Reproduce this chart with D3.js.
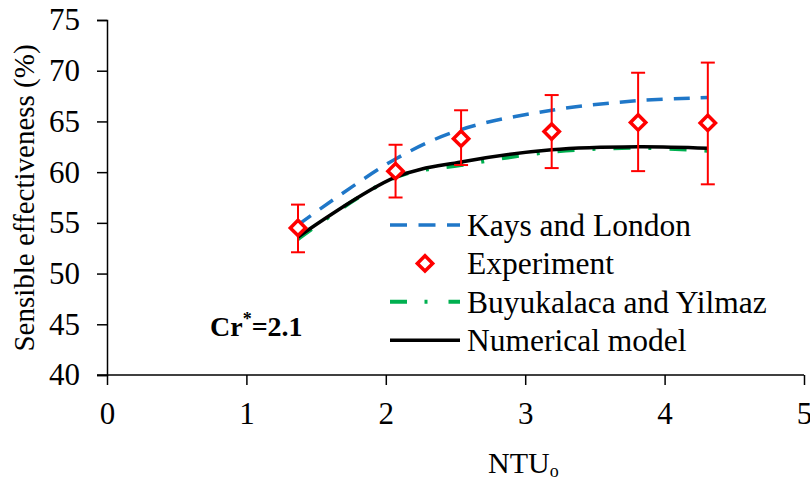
<!DOCTYPE html>
<html>
<head>
<meta charset="utf-8">
<script src="https://cdn.jsdelivr.net/npm/d3@7"></script>
<style>
  body { margin: 0; background: #fff; }
</style>
</head>
<body>
<svg id="chart" width="810" height="483"></svg>
<script>
// NTU values of the measured / computed points
var ntu = [1.37, 2.07, 2.54, 3.19, 3.81, 4.31];

// series values (%)
var kaysLondon = [54.8, 61.3, 64.2, 66.1, 67.05, 67.35];
var experiment = [54.5, 60.1, 63.3, 64.0, 64.9, 64.85];
var errLow = [52.1, 57.5, 60.7, 60.4, 60.1, 58.8];
var errHigh = [56.8, 62.7, 66.1, 67.6, 69.8, 70.8];
var buyukalaca = [53.4, 59.5, 60.7, 62.0, 62.4, 62.1];
var numerical = [53.6, 59.5, 61.0, 62.2, 62.5, 62.35];

var xTicks = [0, 1, 2, 3, 4, 5];
var yTicks = [40, 45, 50, 55, 60, 65, 70, 75];

var legendNames = ["Kays and London", "Experiment", "Buyukalaca and Yilmaz", "Numerical model"];

var FONT = "'Liberation Serif', 'Times New Roman', monospace";

// set the dimensions and margins of the graph
var margin = {top: 20, right: 6, bottom: 108, left: 107},
    width = 804 - margin.left,
    height = 375 - margin.top;

var svg = d3.select("#chart")
  .style("font-family", FONT)
  .append("g")
  .attr("transform", "translate(" + margin.left + "," + margin.top + ")");

var x = d3.scaleLinear().domain([0, 5]).range([0, width]);
var y = d3.scaleLinear().domain([40, 75]).range([height, 0]);

// axes
var xAxis = svg.append("g")
  .attr("transform", "translate(0," + height + ")")
  .call(d3.axisBottom(x).tickValues(xTicks).tickSize(10).tickPadding(17).tickFormat(d3.format("d")));
var yAxis = svg.append("g")
  .call(d3.axisLeft(y).tickValues(yTicks).tickSize(10).tickPadding(17).tickFormat(d3.format("d")));

[xAxis, yAxis].forEach(function(a) {
  a.attr("font-family", null);
  a.select(".domain").attr("stroke", "#000").attr("stroke-width", 1.5);
  a.selectAll(".tick line").attr("stroke", "#000").attr("stroke-width", 1.5);
  a.selectAll(".tick text").style("font-family", FONT).attr("font-size", 31).attr("fill", "#000");
});
// x-axis domain line starts at the y tick length
xAxis.select(".domain").attr("d", "M-10,0H" + width);

// axis titles
svg.append("text")
  .attr("transform", "translate(" + (-73) + "," + 178 + ") rotate(-90)")
  .attr("text-anchor", "middle")
  .style("font-family", FONT)
  .attr("font-size", 29)
  .text("Sensible effectiveness (%)");

var xt = svg.append("text")
  .attr("x", 381)
  .attr("y", 453)
  .style("font-family", FONT)
  .attr("font-size", 30);
xt.append("tspan").text("NTU");
xt.append("tspan").attr("font-size", 18).attr("dy", 4).text("o");

// Cr* annotation
var cr = svg.append("text")
  .attr("x", 103)
  .attr("y", 316)
  .style("font-family", FONT)
  .attr("font-size", 28)
  .attr("font-weight", "bold");
cr.append("tspan").text("Cr");
cr.append("tspan").attr("font-size", 18).attr("dy", -11).text("*");
cr.append("tspan").attr("dy", 11).text("=2.1");

var line = d3.line()
  .curve(d3.curveCatmullRom.alpha(0.5));

function pts(vals) {
  return ntu.map(function(n, i) { return [x(n), y(vals[i])]; });
}

// Kays and London
svg.append("path")
  .attr("d", line(pts(kaysLondon)))
  .attr("fill", "none")
  .attr("stroke", "#1F77C8")
  .attr("stroke-width", 3.5)
  .attr("stroke-dasharray", "16,11");

// Buyukalaca and Yilmaz
svg.append("path")
  .attr("d", line(pts(buyukalaca)))
  .attr("fill", "none")
  .attr("stroke", "#00B050")
  .attr("stroke-width", 4)
  .attr("stroke-dasharray", "17,18,3,18");

// Numerical model
svg.append("path")
  .attr("d", line(pts(numerical)))
  .attr("fill", "none")
  .attr("stroke", "#000")
  .attr("stroke-width", 3.5);

// error bars
var eb = svg.append("g").attr("stroke", "#FF0000").attr("stroke-width", 2);
ntu.forEach(function(n, i) {
  eb.append("line").attr("x1", x(n)).attr("x2", x(n)).attr("y1", y(errLow[i])).attr("y2", y(errHigh[i]));
  eb.append("line").attr("x1", x(n) - 7).attr("x2", x(n) + 7).attr("y1", y(errLow[i])).attr("y2", y(errLow[i]));
  eb.append("line").attr("x1", x(n) - 7).attr("x2", x(n) + 7).attr("y1", y(errHigh[i])).attr("y2", y(errHigh[i]));
});

// experiment markers
var diamond = d3.symbol().type(d3.symbolDiamond2).size(150);
svg.selectAll(".exp")
  .data(ntu)
  .enter().append("path")
  .attr("class", "exp")
  .attr("d", diamond)
  .attr("transform", function(d, i) { return "translate(" + x(d) + "," + y(experiment[i]) + ")"; })
  .attr("fill", "#fff")
  .attr("stroke", "#FF0000")
  .attr("stroke-width", 3.5);

// legend
var lg = svg.append("g").attr("transform", "translate(283,205)");
var rowH = 38.4;
lg.append("line").attr("x1", 0).attr("x2", 70).attr("y1", 0).attr("y2", 0)
  .attr("stroke", "#1F77C8").attr("stroke-width", 3.5).attr("stroke-dasharray", "17,11.5");
lg.append("path").attr("d", diamond).attr("transform", "translate(35," + rowH + ")")
  .attr("fill", "#fff").attr("stroke", "#FF0000").attr("stroke-width", 3.5);
lg.append("line").attr("x1", 0).attr("x2", 70).attr("y1", 2 * rowH).attr("y2", 2 * rowH)
  .attr("stroke", "#00B050").attr("stroke-width", 4).attr("stroke-dasharray", "17,17.5,3,21");
lg.append("line").attr("x1", 0).attr("x2", 70).attr("y1", 3 * rowH).attr("y2", 3 * rowH)
  .attr("stroke", "#000").attr("stroke-width", 3.5);
legendNames.forEach(function(name, i) {
  lg.append("text")
    .attr("x", 77)
    .attr("y", i * rowH)
    .attr("dy", "0.35em")
    .style("font-family", FONT)
    .attr("font-size", 31.5)
    .text(name);
});
</script>
</body>
</html>
